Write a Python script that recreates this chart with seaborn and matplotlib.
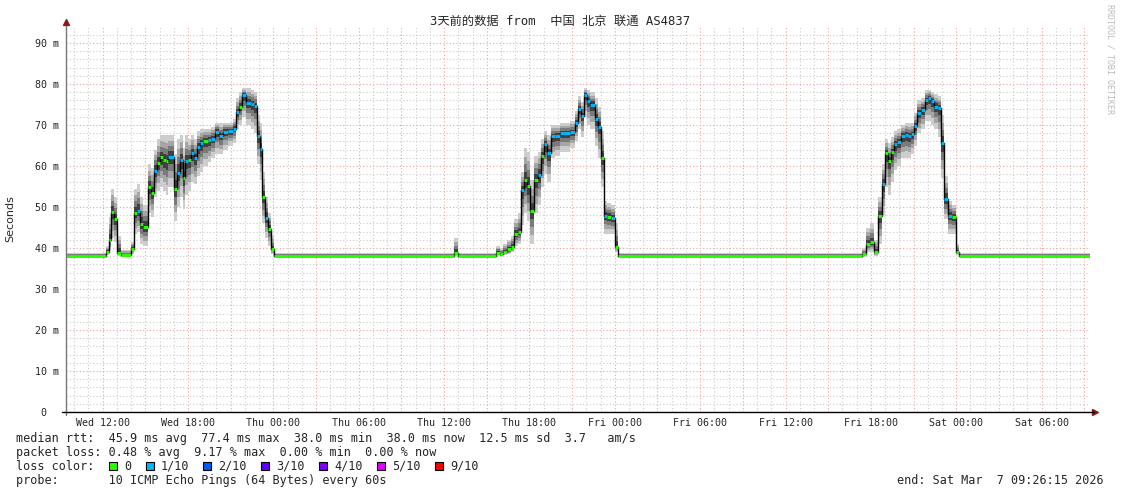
import numpy as np
import pandas as pd
import seaborn as sns
import matplotlib.pyplot as plt
from matplotlib.patches import Rectangle

# hours since start (Wed 09:26:15), value holds until the next entry
hours = [0.00, 2.80, 3.01, 3.15, 3.36, 3.57, 3.85, 4.55, 4.76, 4.97, 5.18, 5.40, 5.75, 5.96, 6.17,
         6.38, 6.59, 6.81, 7.02, 7.16, 7.58, 7.79, 8.00, 8.21, 8.35, 8.56, 8.77, 8.99, 9.20, 9.41,
         9.62, 9.97, 10.18, 10.46, 10.74, 11.02, 11.37, 11.72, 11.93, 12.15, 12.36, 12.64, 12.99,
         13.20, 13.41, 13.62, 13.76, 13.98, 14.19, 14.40, 14.61,
         27.26, 27.54,
         30.21, 30.49, 30.70, 30.98, 31.27, 31.48, 31.76, 31.97, 32.18, 32.39, 32.60, 32.88, 33.16,
         33.37, 33.58, 33.79, 34.08, 34.36, 34.71, 35.41, 35.77, 35.98, 36.19, 36.40, 36.61, 36.82,
         37.17, 37.38, 37.59, 37.80, 38.01, 38.30, 38.58, 38.79,
         55.94, 56.22, 56.50, 56.78, 57.06, 57.34, 57.55, 57.76, 57.98, 58.19, 58.40, 58.68, 58.96,
         59.17, 59.38, 59.59, 59.80, 60.08, 60.37, 60.58, 60.79, 61.00, 61.28, 61.49, 61.70, 62.00,
         62.28, 62.56, 62.77, 72.00]
median = [38.0, 39.1, 42.0, 48.7, 47.0, 38.9, 38.3, 39.8, 48.6, 49.1, 45.8, 45.2, 54.8, 53.5, 58.9,
          60.7, 62.1, 61.5, 61.1, 62.3, 54.3, 58.4, 61.5, 57.0, 61.2, 61.5, 63.1, 61.9, 64.7, 65.5,
          66.2, 66.3, 66.7, 68.4, 67.3, 68.4, 68.5, 69.1, 73.1, 74.5, 77.3, 75.4, 75.1,
          74.6, 67.3, 64.1, 52.5, 47.4, 44.6, 39.8, 38.0,
          38.8, 38.0,
          38.9, 38.5, 39.1, 39.7, 40.3, 43.4, 43.8, 54.1, 56.6, 55.1, 49.1, 56.6, 57.8,
          62.4, 65.3, 63.1, 67.2, 67.3, 68.0, 68.2, 70.6, 74.0, 72.2, 77.4, 75.9, 75.0,
          71.4, 69.6, 61.9, 47.8, 47.6, 47.2, 40.3, 38.0,
          38.5, 40.9, 41.4, 39.0, 47.8, 55.6, 63.1, 61.2, 63.3, 65.3, 65.9, 67.3, 67.6,
          67.2, 67.7, 69.8, 72.9, 73.7, 76.1, 76.5, 75.9, 74.5, 74.1, 65.5, 52.0, 47.8,
          47.5, 39.1, 38.0, 38.0]
smoke_lo = [37.7, 38.2, 39.5, 42.5, 41.5, 38.0, 37.7, 38.5, 43.5, 44.0, 41.0, 40.5, 48.5, 47.5, 52.5,
            54.0, 55.0, 54.0, 53.0, 55.0, 46.5, 50.0, 52.5, 49.5, 53.0, 54.0, 56.0, 55.5, 57.5, 58.5,
            60.0, 61.0, 62.0, 63.0, 63.0, 64.0, 65.0, 65.5, 69.0, 70.0, 72.0, 70.0, 69.0,
            68.0, 60.5, 56.5, 46.0, 42.5, 40.5, 38.5, 37.7,
            38.0, 37.7,
            38.0, 37.8, 38.2, 38.5, 39.0, 40.5, 41.0, 45.5, 48.5, 46.5, 41.0, 48.5, 50.5,
            55.0, 58.0, 56.0, 62.0, 62.5, 63.5, 64.5, 66.0, 69.0, 67.0, 72.0, 70.0, 69.0,
            65.0, 62.0, 55.0, 43.5, 43.5, 43.5, 39.0, 37.7,
            37.8, 39.0, 39.0, 38.0, 41.0, 48.0, 55.0, 53.0, 56.0, 59.0, 60.0, 62.0, 62.0,
            62.0, 63.0, 65.0, 68.0, 69.0, 71.0, 71.0, 70.0, 69.0, 67.0, 57.0, 47.0, 43.5,
            43.5, 38.2, 37.7, 37.7]
smoke_hi = [38.9, 40.5, 47.5, 54.5, 52.5, 43.0, 39.5, 41.5, 54.5, 55.5, 52.5, 50.5, 60.5, 59.5, 64.0,
            66.5, 67.5, 67.5, 67.5, 67.5, 63.0, 66.5, 67.5, 64.5, 67.5, 66.5, 67.5, 66.5, 68.5, 69.0,
            69.0, 69.0, 69.5, 70.5, 70.5, 70.5, 70.5, 71.5, 76.5, 78.0, 79.0, 79.0, 78.5,
            78.0, 72.5, 70.5, 58.5, 52.5, 48.5, 43.0, 38.9,
            42.5, 38.9,
            40.5, 40.0, 41.0, 42.0, 43.0, 47.0, 48.5, 58.5, 64.5, 63.5, 56.5, 62.5, 63.5,
            66.5, 68.5, 67.5, 70.0, 70.0, 70.5, 71.0, 73.5, 77.0, 75.5, 79.0, 78.5, 78.0,
            76.5, 74.5, 68.5, 51.5, 51.0, 50.5, 46.0, 38.9,
            40.0, 45.0, 46.0, 42.0, 52.5, 60.5, 66.5, 65.5, 67.0, 68.5, 69.0, 70.0, 70.5,
            70.5, 70.5, 73.0, 76.0, 76.5, 78.5, 78.5, 78.0, 77.5, 77.0, 72.5, 57.5, 51.5,
            50.5, 41.0, 38.9, 38.9]
# lost pings out of 10
loss = [0, 0, 0, 0, 0, 0, 0, 0, 0, 1, 0, 0, 0, 0, 1,
        0, 0, 0, 0, 1, 0, 1, 1, 0, 1, 0, 1, 1, 1, 1,
        0, 1, 1, 1, 1, 1, 1, 1, 1, 0, 1, 1, 1,
        1, 1, 1, 0, 1, 0, 0, 0,
        0, 0,
        0, 0, 0, 0, 0, 0, 0, 1, 0, 0, 0, 0, 1,
        0, 1, 1, 1, 1, 1, 1, 1, 1, 1, 1, 1, 1,
        1, 1, 0, 1, 0, 1, 0, 0,
        0, 0, 0, 0, 0, 1, 0, 0, 0, 1, 1, 1, 1,
        1, 1, 1, 1, 1, 1, 1, 1, 1, 1, 1, 1, 1,
        0, 0, 0, 0]

loss_keys = [0, 1, 2, 3, 4, 5, 9]
loss_labels = ['0', '1/10', '2/10', '3/10', '4/10', '5/10', '9/10']
loss_colors = ['#26ff00', '#00b8ff', '#0059ff', '#5e00ff', '#7e00ff', '#dd00ff', '#ff0000']

major_ticks = [2.5625 + 3 * k for k in range(24)]
tick_labels = ['Wed 12:00', '', 'Wed 18:00', '', 'Thu 00:00', '', 'Thu 06:00', '',
               'Thu 12:00', '', 'Thu 18:00', '', 'Fri 00:00', '', 'Fri 06:00', '',
               'Fri 12:00', '', 'Fri 18:00', '', 'Sat 00:00', '', 'Sat 06:00', '']
minor_ticks = [0.5625 + k for k in range(72)]

df = pd.DataFrame({'hours': hours, 'median': median, 'lo': smoke_lo, 'hi': smoke_hi, 'loss': loss})

sns.set_style('white')
plt.rcParams['font.family'] = ['DejaVu Sans Mono', 'Noto Sans CJK SC']
mono = 'DejaVu Sans Mono'

W, H = 1121, 494
fig = plt.figure(figsize=(W / 100, H / 100), dpi=100)
ax = fig.add_axes([66.2 / W, 82 / H, 1024.3 / W, 386 / H])

# smoke: light outer band, darker toward the median
med = df['median'].values
lo = df['lo'].values
hi = df['hi'].values
for frac, col in [(1.0, '#cdcdcd'), (0.72, '#a6a6a6'), (0.48, '#7a7a7a'), (0.25, '#404040')]:
    ax.fill_between(df['hours'], med - (med - lo) * frac, med + (hi - med) * frac,
                    step='post', color=col, lw=0, zorder=2)

sns.lineplot(data=df, x='hours', y='median', drawstyle='steps-post', color='black', lw=1,
             ax=ax, zorder=3, estimator=None)
cmap = dict(zip(loss_keys, loss_colors))
ax.hlines(df['median'][:-1], df['hours'][:-1], df['hours'][1:].values,
          colors=[cmap[v] for v in df['loss'][:-1]], lw=2.1, zorder=4)

ax.set_xlim(0, 72)
ax.set_ylim(0, 94.15)
ax.set_xticks(major_ticks)
ax.set_xticklabels(tick_labels, family=mono, fontsize=7.2)
ax.set_xticks(minor_ticks, minor=True)
ax.set_yticks(range(0, 91, 10))
ax.set_yticklabels([' 0  '] + [f'{v} m' for v in range(10, 91, 10)], family=mono, fontsize=7.2)
ax.set_yticks(range(0, 94, 2), minor=True)

ax.grid(which='minor', color='#cccccc', linestyle=(0, (1, 2)), lw=0.8, zorder=1)
ax.grid(which='major', color='#f2a0a0', linestyle=(0, (1, 2)), lw=0.8, zorder=1)
ax.set_axisbelow(True)
ax.tick_params(axis='x', which='major', length=2, pad=2, color='black')
ax.tick_params(axis='y', which='major', length=3, pad=2, color='#777777')
ax.tick_params(which='minor', length=0)
for s in ax.spines.values():
    s.set_visible(False)

ax.set_xlabel('')
ax.set_ylabel('Seconds', family='DejaVu Sans', fontsize=8)
ax.yaxis.set_label_coords((15 - 66.2) / 1024.3, 0.5)

# axes lines with arrow heads
ax.plot([0, 0], [-0.008, 1.0], transform=ax.transAxes, color='#777777', lw=1, clip_on=False, zorder=5)
ax.plot([-0.004, 1.003], [0, 0], transform=ax.transAxes, color='black', lw=1, clip_on=False, zorder=5)
ax.plot([0], [1.01], transform=ax.transAxes, marker='^', ms=4, color='#8b1a1a', clip_on=False)
ax.plot([1.004], [0], transform=ax.transAxes, marker='>', ms=4, color='#8b1a1a', clip_on=False)

fig.text(560 / W, 1 - 21 / H, '3天前的数据 from  中国 北京 联通 AS4837', ha='center', va='center',
         fontsize=8.8, family=['DejaVu Sans Mono', 'Noto Sans CJK SC'])
fig.text(1110 / W, 1 - 4 / H, 'RRDTOOL / TOBI OETIKER', rotation=270, ha='center', va='top',
         fontsize=6, family=mono, color='#bbbbbb')

lines = ['median rtt:  45.9 ms avg  77.4 ms max  38.0 ms min  38.0 ms now  12.5 ms sd  3.7   am/s',
         'packet loss: 0.48 % avg  9.17 % max  0.00 % min  0.00 % now',
         'loss color:',
         'probe:       10 ICMP Echo Pings (64 Bytes) every 60s']
for i, line in enumerate(lines):
    fig.text(16 / W, 1 - (438 + 14 * i) / H, line, ha='left', va='center', fontsize=8.5, family=mono)
fig.text(1104 / W, 1 - 480 / H, 'end: Sat Mar  7 09:26:15 2026', ha='right', va='center',
         fontsize=8.5, family=mono)

box_x = [109, 145.7, 203, 261, 319, 377, 435]
for bx, lab, col in zip(box_x, loss_labels, loss_colors):
    fig.add_artist(Rectangle((bx / W, 1 - 470 / H), 8 / W, 8 / H, transform=fig.transFigure,
                             facecolor=col, edgecolor='black', lw=0.8))
    fig.text((bx + 15) / W, 1 - 466 / H, lab, ha='left', va='center', fontsize=8.5, family=mono)

fig.savefig('out.png', dpi=100)
